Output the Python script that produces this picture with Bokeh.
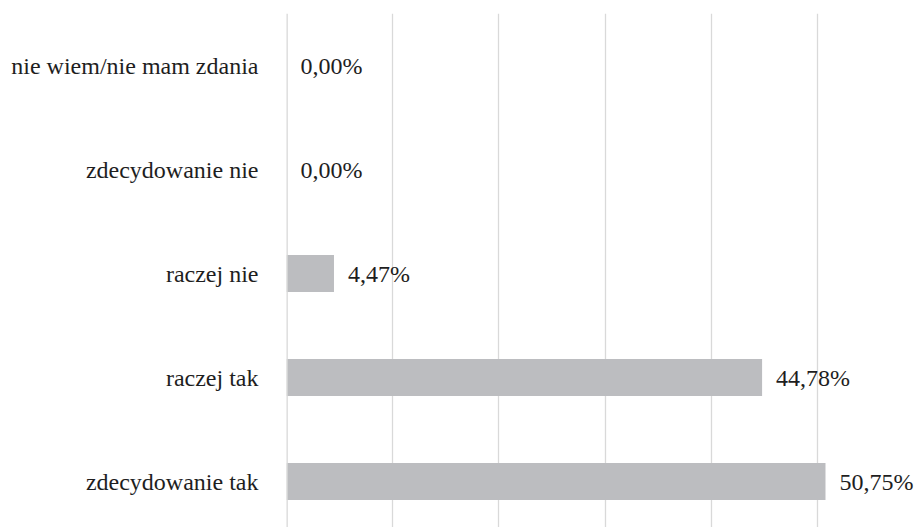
from bokeh.plotting import figure
from bokeh.models import ColumnDataSource, Range1d, FixedTicker, Span
from bokeh.core.properties import value
from bokeh.embed import file_html
from bokeh.resources import INLINE

categories = ["zdecydowanie tak", "raczej tak", "raczej nie", "zdecydowanie nie", "nie wiem/nie mam zdania"]
values = [50.75, 44.78, 4.47, 0.00, 0.00]
grid_ticks = [0, 10, 20, 30, 40, 50]

labels = [f"{v:.2f}".replace(".", ",") + "%" for v in values]
ypos = list(range(len(categories)))
src = ColumnDataSource(dict(y=ypos, v=values, lab=labels))

FONT = "Times New Roman"
TXT = "#1e1e1e"
GRID = "#D9D9D9"

p = figure(width=914, height=527, output_backend="svg", toolbar_location=None,
           x_range=Range1d(0, 59.13), y_range=Range1d(-0.442, 4.5),
           min_border_left=286, min_border_right=0, min_border_top=13, min_border_bottom=0)
p.outline_line_color = None
p.background_fill_color = "white"
p.border_fill_color = "white"

p.hbar(y="y", right="v", left=0, height=0.356, source=src, fill_color="#BCBDC0", line_color=None)
p.text(x="v", y="y", text="lab", source=src, x_offset=14, text_baseline="middle", text_align="left",
       text_font=value(FONT), text_font_size="24px", text_color=TXT)

p.xaxis.visible = False
p.xgrid.ticker = FixedTicker(ticks=grid_ticks)
p.xgrid.grid_line_color = GRID
p.xgrid.grid_line_width = 1.3
p.ygrid.visible = False
p.add_layout(Span(location=grid_ticks[0], dimension="height", line_color=GRID, line_width=2.6))

p.yaxis.ticker = FixedTicker(ticks=ypos)
p.yaxis.major_label_overrides = {i: c for i, c in enumerate(categories)}
p.yaxis.axis_line_color = None
p.yaxis.major_tick_line_color = None
p.yaxis.minor_tick_line_color = None
p.yaxis.major_tick_out = 0
p.yaxis.major_tick_in = 0
p.yaxis.major_label_standoff = 28
p.yaxis.major_label_text_font = FONT
p.yaxis.major_label_text_font_size = "24px"
p.yaxis.major_label_text_color = TXT

open("out.html", "w").write(file_html(p, INLINE))
